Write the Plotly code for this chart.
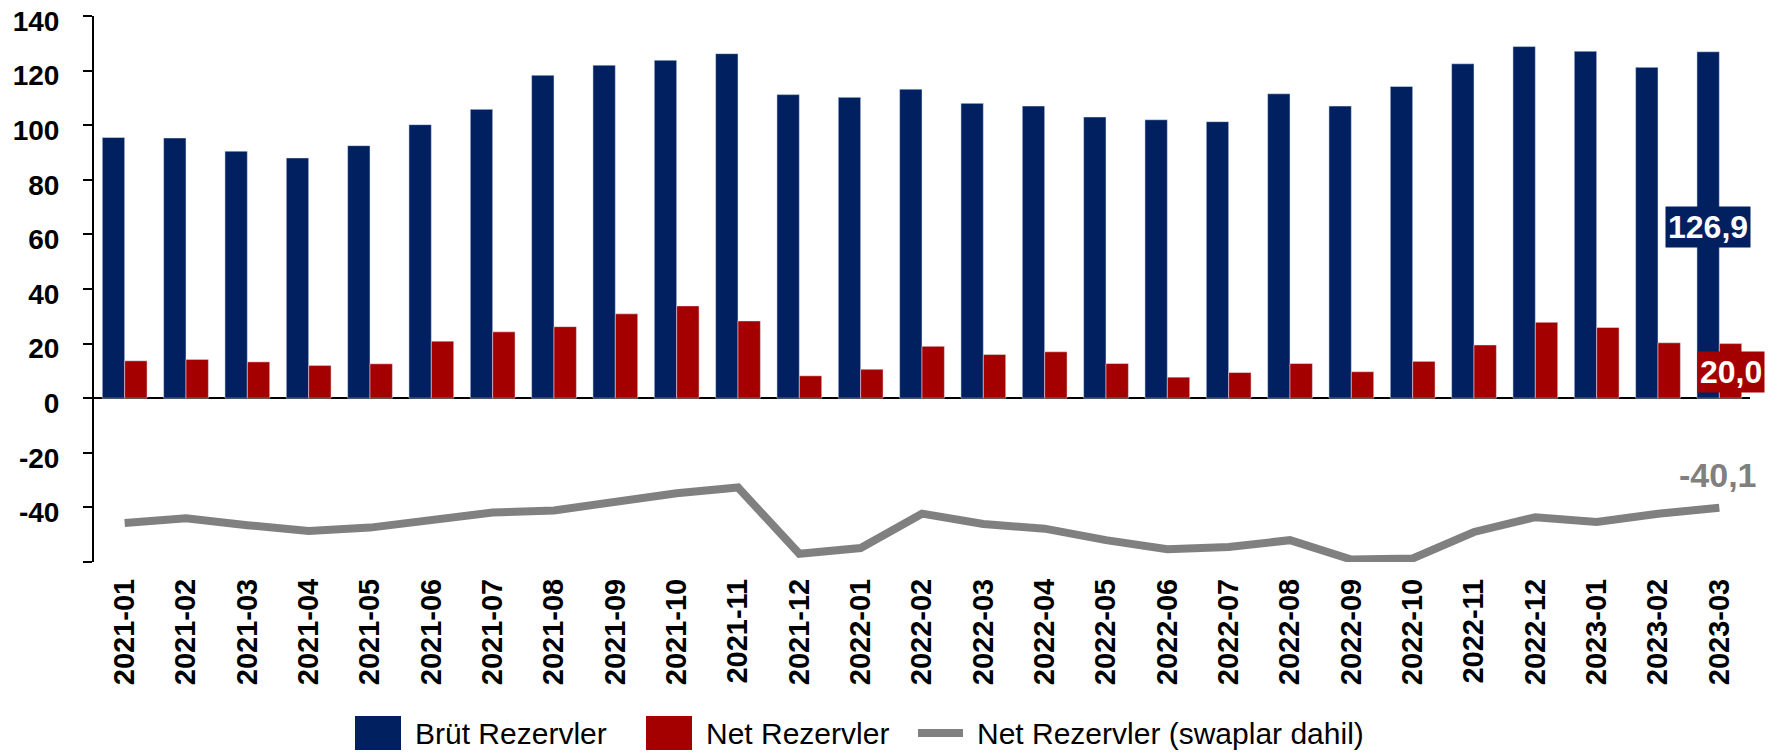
import plotly.graph_objects as go

months = [
    "2021-01", "2021-02", "2021-03", "2021-04", "2021-05", "2021-06", "2021-07",
    "2021-08", "2021-09", "2021-10", "2021-11", "2021-12", "2022-01", "2022-02",
    "2022-03", "2022-04", "2022-05", "2022-06", "2022-07", "2022-08", "2022-09",
    "2022-10", "2022-11", "2022-12", "2023-01", "2023-02", "2023-03",
]
brut = [
    95.5, 95.3, 90.5, 88.0, 92.5, 100.2, 105.8, 118.3, 122.0, 123.8, 126.2, 111.2,
    110.2, 113.2, 108.0, 107.0, 103.0, 102.0, 101.3, 111.5, 107.0, 114.2, 122.5,
    128.8, 127.1, 121.2, 126.9,
]
net = [
    13.7, 14.2, 13.3, 12.0, 12.6, 20.9, 24.3, 26.2, 30.9, 33.8, 28.3, 8.2,
    10.6, 19.0, 16.0, 17.0, 12.7, 7.7, 9.4, 12.7, 9.7, 13.5, 19.5,
    27.8, 25.9, 20.3, 20.0,
]
net_swap = [
    -45.7, -44.0, -46.5, -48.6, -47.4, -44.4, -41.9, -41.1, -37.7, -34.8, -32.7, -57.0,
    -54.9, -42.3, -46.1, -47.8, -52.0, -55.3, -54.5, -52.0, -59.1, -58.7, -49.0,
    -43.6, -45.3, -42.3, -40.1,
]
y_ticks = [-60, -40, -20, 0, 20, 40, 60, 80, 100, 120, 140]
series_names = ["Brüt Rezervler", "Net Rezervler", "Net Rezervler (swaplar dahil)"]

NAVY = "#002060"
RED = "#A50000"
GRAY = "#808080"
FONT = "Liberation Sans, Arial, sans-serif"

# page body keeps its default 8px margin
BODY = 8
W, H = 1777 - 2 * BODY, 754 - BODY
M = dict(l=94 - BODY, r=W - (1750 - BODY), t=16 - BODY, b=H - (562 - BODY))


def fmt(v):
    return f"{v:.1f}".replace(".", ",")


def px(x, y):
    # window pixel -> paper coords of the plot area
    x, y = x - BODY, y - BODY
    pw = W - M["l"] - M["r"]
    ph = H - M["t"] - M["b"]
    return (x - M["l"]) / pw, (H - M["b"] - y) / ph


fig = go.Figure()
fig.add_trace(go.Bar(x=months, y=brut, name=series_names[0], marker_color=NAVY))
fig.add_trace(go.Bar(x=months, y=net, name=series_names[1], marker_color=RED))
fig.add_trace(
    go.Scatter(
        x=months, y=net_swap, name=series_names[2],
        mode="lines", line=dict(color=GRAY, width=8),
    )
)

last = months[-1]
fig.add_annotation(
    x=last, y=62.8, text=f"<b>{fmt(brut[-1])}</b>", showarrow=False,
    xshift=-11, bgcolor=NAVY, font=dict(color="white", size=32, family=FONT),
    borderpad=2,
)
fig.add_annotation(
    x=last, y=9.7, text=f"<b>{fmt(net[-1])}</b>", showarrow=False,
    xshift=12, bgcolor=RED, font=dict(color="white", size=32, family=FONT),
    borderpad=2,
)
fig.add_annotation(
    x=last, y=-28.2, text=f"<b>{fmt(net_swap[-1])}</b>", showarrow=False,
    xshift=-1, font=dict(color=GRAY, size=34, family=FONT),
)

# hand-drawn legend with big swatches
legend_items = [
    ("rect", NAVY, 355, 401, series_names[0]),
    ("rect", RED, 646, 692, series_names[1]),
    ("line", GRAY, 918, 963, series_names[2]),
]
ly = 733
for kind, color, x0, x1, label in legend_items:
    a0, b0 = px(x0, ly - 17)
    a1, b1 = px(x1, ly + 17)
    if kind == "rect":
        fig.add_shape(
            type="rect", xref="paper", yref="paper",
            x0=a0, x1=a1, y0=b1, y1=b0, fillcolor=color, line_width=0,
        )
    else:
        yy = px(0, ly)[1]
        fig.add_shape(
            type="line", xref="paper", yref="paper",
            x0=a0, x1=a1, y0=yy, y1=yy, line=dict(color=color, width=8),
        )
    tx, ty = px(x1 + 12, ly)
    fig.add_annotation(
        xref="paper", yref="paper", x=tx, y=ty, text=label, showarrow=False,
        xanchor="left", yanchor="middle", font=dict(size=30, family=FONT, color="black"),
    )

fig.update_layout(
    width=W, height=H,
    paper_bgcolor="white", plot_bgcolor="white",
    font=dict(family=FONT, color="black"),
    barmode="group", bargap=0.27, bargroupgap=0,
    margin=M,
    showlegend=False,
    xaxis=dict(
        type="category", range=[-0.5, len(months) - 0.5],
        tickangle=-90, showgrid=False, showline=False, ticks="",
        tickfont=dict(size=29, family=FONT, weight="bold"),
        ticklabelstandoff=10, automargin=False,
    ),
    yaxis=dict(
        range=[-60, 140], tickvals=y_ticks,
        ticktext=["" if v == -60 else str(v) for v in y_ticks],
        showgrid=False, showline=True, linecolor="black", linewidth=2,
        ticks="outside", ticklen=9, tickwidth=2, tickcolor="black",
        zeroline=True, zerolinecolor="black", zerolinewidth=2,
        tickfont=dict(size=28, family=FONT, weight="bold"),
        ticklabelstandoff=18, ticklabelshift=5, ticklabeloverflow="allow",
        automargin=False,
    ),
)

fig.write_html("out.html")
